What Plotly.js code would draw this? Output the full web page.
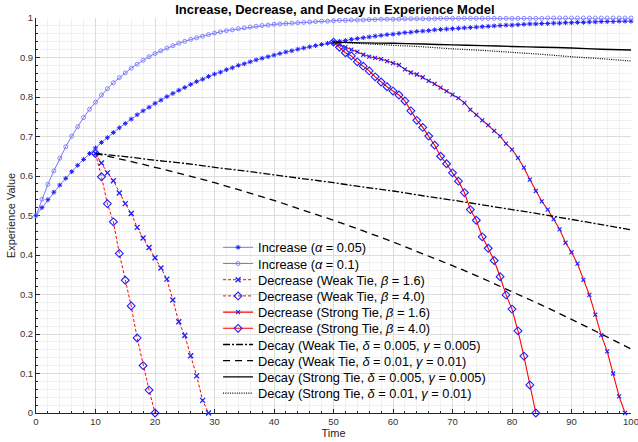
<!DOCTYPE html>
<html><head><meta charset="utf-8">
<script src="https://cdn.plot.ly/plotly-3.0.1.min.js"></script>
<style>html,body{margin:0;padding:0;background:#fff}</style>
</head><body><div id="chart" style="width:638px;height:442px"></div>
<script>
// ---- data ----
var tIncrease = [0,1,2,3,4,5,6,7,8,9,10,11,12,13,14,15,16,17,18,19,20,21,22,23,24,25,26,27,28,29,30,31,32,33,34,35,36,37,38,39,40,41,42,43,44,45,46,47,48,49,50,51,52,53,54,55,56,57,58,59,60,61,62,63,64,65,66,67,68,69,70,71,72,73,74,75,76,77,78,79,80,81,82,83,84,85,86,87,88,89,90,91,92,93,94,95,96,97,98,99,100];
var increaseA005 = [0.500,0.520,0.540,0.559,0.577,0.594,0.611,0.627,0.642,0.657,
  0.671,0.685,0.697,0.710,0.722,0.733,0.744,0.755,0.765,0.774,
  0.784,0.792,0.801,0.809,0.817,0.824,0.832,0.839,0.845,0.852,
  0.858,0.863,0.869,0.874,0.880,0.884,0.889,0.894,0.898,0.902,
  0.906,0.910,0.914,0.917,0.921,0.924,0.927,0.930,0.933,0.936,
  0.938,0.941,0.943,0.946,0.948,0.950,0.952,0.954,0.956,0.958,
  0.959,0.961,0.963,0.964,0.966,0.967,0.968,0.970,0.971,0.972,
  0.973,0.974,0.975,0.976,0.977,0.978,0.979,0.980,0.981,0.982,
  0.982,0.983,0.984,0.985,0.985,0.986,0.986,0.987,0.987,0.988,
  0.988,0.989,0.989,0.990,0.990,0.991,0.991,0.991,0.992,0.992,0.992];
var increaseA01 = [0.500,0.541,0.579,0.613,0.645,0.674,0.701,0.725,0.748,0.769,
  0.787,0.805,0.821,0.836,0.849,0.861,0.873,0.883,0.893,0.902,
  0.910,0.917,0.924,0.930,0.936,0.941,0.946,0.950,0.954,0.958,
  0.962,0.965,0.968,0.970,0.973,0.975,0.977,0.979,0.981,0.982,
  0.984,0.985,0.986,0.987,0.988,0.989,0.990,0.991,0.992,0.992,
  0.993,0.994,0.994,0.995,0.995,0.995,0.996,0.996,0.997,0.997,
  0.997,0.997,0.998,0.998,0.998,0.998,0.998,0.998,0.999,0.999,
  0.999,0.999,0.999,0.999,0.999,0.999,0.999,0.999,0.999,0.999,
  0.999,0.999,0.999,0.999,0.999,0.999,1.000,1.000,1.000,1.000,
  1.000,1.000,1.000,1.000,1.000,1.000,1.000,1.000,1.000,1.000,1.000];

var tWeakB16 = [10,11,12,13,14,15,16,17,18,19,20,21,22,23,24,25,26,27,28,29];
var weakB16 = [0.657,0.633,0.608,0.588,0.557,0.530,0.505,0.470,0.443,0.419,0.393,0.367,0.339,0.286,0.231,0.196,0.145,0.094,0.032,0.000];
var tWeakB40 = [10,11,12,13,14,15,16,17,18,19,20];
var weakB40 = [0.657,0.598,0.530,0.484,0.404,0.336,0.271,0.190,0.120,0.058,0.000];

var tStrongB16 = [50,51,52,53,54,55,56,57,58,59,60,61,62,63,64,65,66,67,68,69,70,71,72,73,74,75,76,77,78,79,80,81,82,83,84,85,86,87,88,89,90,91,92,93,94,95,96,97,98,99];
var strongB16 = [0.939,0.932,0.926,0.920,0.914,0.907,0.902,0.899,0.896,0.891,
  0.886,0.881,0.870,0.862,0.857,0.850,0.841,0.833,0.824,0.815,
  0.806,0.797,0.785,0.768,0.755,0.741,0.729,0.714,0.701,0.682,
  0.667,0.646,0.621,0.591,0.562,0.536,0.515,0.491,0.465,0.431,
  0.407,0.378,0.337,0.299,0.249,0.197,0.156,0.100,0.042,0.000];
var tStrongB40 = [50,51,52,53,54,55,56,57,58,59,60,61,62,63,64,65,66,67,68,69,70,71,72,73,74,75,76,77,78,79,80,81,82,83,84];
var strongB40 = [0.939,0.926,0.912,0.904,0.889,0.878,0.866,0.851,0.838,0.826,
  0.815,0.805,0.790,0.765,0.741,0.723,0.701,0.678,0.650,0.631,
  0.608,0.587,0.558,0.515,0.488,0.446,0.417,0.386,0.345,0.299,
  0.263,0.208,0.144,0.071,0.000];

var tDecayWeak = [10,15,20,25,30,35,40,45,50,55,60,65,70,75,80,85,90,95,100];
var decayWeakD005 = [0.657,0.649,0.640,0.632,0.622,0.613,0.603,0.593,0.583,0.572,0.562,0.550,0.539,0.527,0.515,0.503,0.490,0.477,0.464];
var decayWeakD01 = [0.657,0.640,0.622,0.603,0.583,0.561,0.538,0.513,0.488,0.461,0.433,0.403,0.373,0.341,0.307,0.273,0.237,0.200,0.162];
var tDecayStrong = [50,55,60,65,70,75,80,85,90,95,100];
var decayStrongD005 = [0.939,0.937,0.936,0.934,0.932,0.930,0.928,0.926,0.924,0.921,0.919];
var decayStrongD01 = [0.939,0.935,0.931,0.927,0.922,0.918,0.913,0.908,0.902,0.897,0.891];

var seriesNames = [
  'Increase (<i>α</i> = 0.05)',
  'Increase (<i>α</i> = 0.1)',
  'Decrease (Weak Tie, <i>β</i> = 1.6)',
  'Decrease (Weak Tie, <i>β</i> = 4.0)',
  'Decrease (Strong Tie, <i>β</i> = 1.6)',
  'Decrease (Strong Tie, <i>β</i> = 4.0)',
  'Decay (Weak Tie, <i>δ</i> = 0.005, <i>γ</i> = 0.005)',
  'Decay (Weak Tie, <i>δ</i> = 0.01, <i>γ</i> = 0.01)',
  'Decay (Strong Tie, <i>δ</i> = 0.005, <i>γ</i> = 0.005)',
  'Decay (Strong Tie, <i>δ</i> = 0.01, <i>γ</i> = 0.01)'
];

var lightBlue = 'rgb(120,120,255)';
var blue = 'rgb(30,30,255)';
var red = 'rgb(255,0,0)';

var traces = [
  {x:tIncrease, y:increaseA005, name:seriesNames[0], mode:'lines+markers',
   line:{color:lightBlue, width:1}, marker:{symbol:'asterisk-open', size:4, color:blue, line:{color:blue, width:1}}},
  {x:tIncrease, y:increaseA01, name:seriesNames[1], mode:'lines+markers',
   line:{color:lightBlue, width:1}, marker:{symbol:'circle-open', size:4, color:lightBlue, line:{color:lightBlue, width:0.9}}},
  {x:tWeakB16, y:weakB16, name:seriesNames[2], mode:'lines+markers',
   line:{color:red, width:1, dash:'3px,2px'}, marker:{symbol:'x-thin-open', size:5, color:blue, line:{color:blue, width:1.3}}},
  {x:tWeakB40, y:weakB40, name:seriesNames[3], mode:'lines+markers',
   line:{color:red, width:1, dash:'3px,2px'}, marker:{symbol:'diamond-open', size:6, color:blue, line:{color:blue, width:1.1}}},
  {x:tStrongB16, y:strongB16, name:seriesNames[4], mode:'lines+markers',
   line:{color:red, width:1.1}, marker:{symbol:'x-thin-open', size:4, color:blue, line:{color:blue, width:1.1}}},
  {x:tStrongB40, y:strongB40, name:seriesNames[5], mode:'lines+markers',
   line:{color:red, width:1.1}, marker:{symbol:'diamond-open', size:6, color:blue, line:{color:blue, width:1.1}}},
  {x:tDecayWeak, y:decayWeakD005, name:seriesNames[6], mode:'lines', line:{color:'#000', width:1.3, dash:'7px,2px,2px,2px', shape:'spline'}},
  {x:tDecayWeak, y:decayWeakD01, name:seriesNames[7], mode:'lines', line:{color:'#000', width:1.3, dash:'7px,5px', shape:'spline'}},
  {x:tDecayStrong, y:decayStrongD005, name:seriesNames[8], mode:'lines', line:{color:'#000', width:1.4, shape:'spline'}},
  {x:tDecayStrong, y:decayStrongD01, name:seriesNames[9], mode:'lines', line:{color:'#000', width:1.2, dash:'1px,1.3px', shape:'spline'}}
];
traces.forEach(function(t){ t.type = 'scatter'; t.cliponaxis = false; });

var axisCommon = {
  automargin:false,
  ticks:'inside', ticklen:4, tickwidth:1, tickcolor:'#262626',
  showline:true, linecolor:'#262626', linewidth:1,
  showgrid:true, gridcolor:'#dcdcdc', gridwidth:1, zeroline:false,
  tickfont:{size:9.5, color:'#333'},
  ticklabeloverflow:'allow',
  layer:'below traces'
};

var layout = {
  width:638, height:442,
  margin:{l:36, r:7, t:18, b:29, pad:0, autoexpand:false},
  paper_bgcolor:'#fff', plot_bgcolor:'#fff',
  font:{family:'"Liberation Sans", Arial, sans-serif', color:'#262626'},
  title:{text:'<b>Increase, Decrease, and Decay in Experience Model</b>',
         font:{size:13, color:'#000'}, x:0.525, xref:'container', xanchor:'center',
         y:0.978, yref:'container', yanchor:'middle'},
  xaxis:Object.assign({}, axisCommon, {
    range:[0,100], tick0:0, dtick:10,
    title:{text:'Time', font:{size:11, color:'#262626'}, standoff:2},
    minor:{dtick:2, showgrid:true, gridcolor:'#f0f0f0', gridwidth:1, ticks:'inside', ticklen:2, tickcolor:'#262626'}
  }),
  yaxis:Object.assign({}, axisCommon, {
    range:[0,1], tick0:0, dtick:0.1,
    title:{text:'Experience Value', font:{size:11, color:'#262626'}, standoff:2},
    minor:{dtick:0.02, showgrid:true, gridcolor:'#f0f0f0', gridwidth:1, ticks:'inside', ticklen:2, tickcolor:'#262626'}
  }),
  showlegend:true,
  legend:{x:0.306, xanchor:'left', y:0.457, yanchor:'top', bgcolor:'rgba(0,0,0,0)',
          borderwidth:0, font:{size:12.8, color:'#000'}, itemwidth:30, tracegroupgap:0}
};

Plotly.newPlot('chart', traces, layout, {displayModeBar:false, staticPlot:true}).then(function(){
  var items = document.querySelectorAll('.legend .traces');
  if (!items.length) return;
  var re = /translate\(\s*([-\d.]+)[ ,]+([-\d.]+)\s*\)/;
  var m0 = re.exec(items[0].getAttribute('transform') || '');
  var x0 = m0 ? parseFloat(m0[1]) : 0, y0 = m0 ? parseFloat(m0[2]) : 0;
  items.forEach(function(g, i){
    var m = re.exec(g.getAttribute('transform') || '');
    var xi = m ? parseFloat(m[1]) : x0;
    g.setAttribute('transform', 'translate(' + xi + ',' + (y0 + i*16.2) + ')');
  });
});
</script></body></html>
